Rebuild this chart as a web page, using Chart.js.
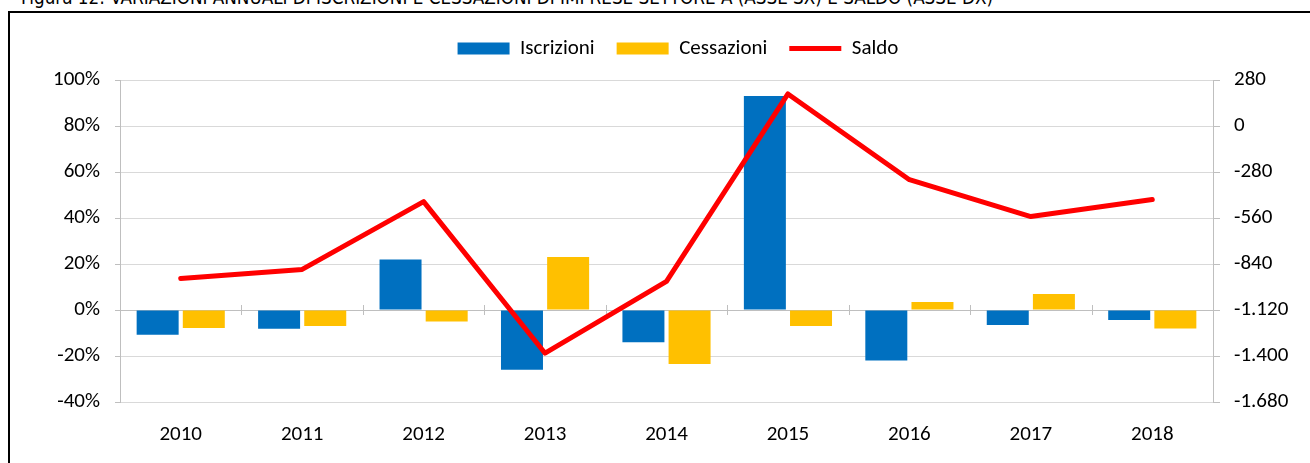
<!DOCTYPE html>
<html>
<head>
<meta charset="utf-8">
<script src="https://cdn.jsdelivr.net/npm/chart.js@4/dist/chart.umd.min.js"></script>
<style>
  html, body { margin: 0; padding: 0; background: #fff; overflow: hidden; }
  #wrap { position: relative; width: 1310px; height: 463px; }
  #title { position: absolute; left: 21px; top: -13px; font-family: "Liberation Sans Narrow", "Arial Narrow", "DejaVu Sans Condensed", sans-serif; font-size: 18.7px; line-height: 22px; color: #000; white-space: nowrap; }
  #frame { position: absolute; left: 8px; top: 11px; width: 1320px; height: 470px; border-left: 2px solid #000; border-top: 2px solid #000; box-sizing: border-box; }
  canvas { position: absolute; left: 0; top: 0; }
</style>
</head>
<body>
<div id="wrap">
  <div id="title">Figura 12: VARIAZIONI ANNUALI DI ISCRIZIONI E CESSAZIONI DI IMPRESE SETTORE A (ASSE SX) E SALDO (ASSE DX)</div>
  <div id="frame"></div>
  <canvas id="c" width="1310" height="463"></canvas>
</div>
<script>
const years = ["2010", "2011", "2012", "2013", "2014", "2015", "2016", "2017", "2018"];
const iscrizioni = [-10.8, -8.2, 22.0, -26.0, -14.0, 93.0, -22.0, -6.5, -4.3];
const cessazioni = [-7.8, -7.0, -5.0, 23.0, -23.5, -7.0, 3.5, 7.0, -8.0];
const saldo = [-928, -873, -460, -1383, -946, 195, -327, -551, -448];
const leftTicks = [-40, -20, 0, 20, 40, 60, 80, 100];
const rightTicks = [-1680, -1400, -1120, -840, -560, -280, 0, 280];

const FONT = "Carlito, Lato, 'Liberation Sans', sans-serif";
const FS = 21;

function fmtIt(v) {
  const s = Math.abs(Math.round(v)).toString().replace(/\B(?=(\d{3})+(?!\d))/g, ".");
  return (v < 0 ? "-" : "") + s;
}

const zeroTicks = {
  id: "zeroTicks",
  beforeDatasetsDraw(chart) {
    const x = chart.scales.x, y = chart.scales.y;
    const ctx = chart.ctx;
    const y0 = y.getPixelForValue(0);
    const n = years.length;
    ctx.save();
    ctx.strokeStyle = "#bfbfbf";
    ctx.lineWidth = 1;
    for (let i = 1; i < n; i++) {
      const px = Math.round((x.getPixelForValue(i - 1) + x.getPixelForValue(i)) / 2) + 0.5;
      ctx.beginPath();
      ctx.moveTo(px, y0 - 5);
      ctx.lineTo(px, y0 + 5);
      ctx.stroke();
    }
    ctx.restore();
  }
};

const legendGap = {
  id: "legendGap",
  beforeLayout(chart) {
    const lg = chart.legend;
    if (lg && !lg._gapPatched) {
      const f = lg.fit.bind(lg);
      lg.fit = function () { f(); this.height += 11; };
      lg._gapPatched = true;
    }
  },
  afterLayout(chart) {
    const lg = chart.legend;
    if (lg) { lg.left += 46; }
  }
};

new Chart(document.getElementById("c"), {
  data: {
    labels: years,
    datasets: [
      { type: "bar", label: "Iscrizioni", data: iscrizioni, backgroundColor: "#0070c0", borderWidth: 0, yAxisID: "y", order: 2, categoryPercentage: 0.76, barPercentage: 0.91 },
      { type: "bar", label: "Cessazioni", data: cessazioni, backgroundColor: "#ffc000", borderWidth: 0, yAxisID: "y", order: 2, categoryPercentage: 0.76, barPercentage: 0.91 },
      { type: "line", label: "Saldo", data: saldo, borderColor: "#ff0000", backgroundColor: "#ff0000", borderWidth: 5, pointRadius: 0, tension: 0, borderCapStyle: "round", borderJoinStyle: "round", yAxisID: "y1", order: 0 }
    ]
  },
  options: {
    responsive: false,
    animation: false,
    devicePixelRatio: 1,
    layout: { padding: { top: 16, left: 0, right: 0, bottom: 0 } },
    plugins: {
      tooltip: { enabled: false },
      legend: {
        display: true,
        position: "top",
        labels: {
          font: { family: FONT, size: FS },
          color: "#000",
          padding: 22,
          boxHeight: 12,
          usePointStyle: true,
          pointStyleWidth: 52,
          generateLabels(chart) {
            return chart.data.datasets.map((ds, i) => ({
              text: ds.label,
              datasetIndex: i,
              fillStyle: ds.type === "line" ? ds.borderColor : ds.backgroundColor,
              strokeStyle: ds.type === "line" ? ds.borderColor : ds.backgroundColor,
              lineWidth: ds.type === "line" ? 5 : 0,
              pointStyle: ds.type === "line" ? "line" : "rect",
              hidden: false,
              fontColor: "#000"
            }));
          }
        }
      }
    },
    scales: {
      x: {
        type: "category",
        offset: true,
        grid: { display: false, drawTicks: false, tickLength: 0 },
        border: { display: false },
        ticks: { font: { family: FONT, size: FS }, color: "#000", padding: 20 },
        afterFit(s) { s.height = 61; }
      },
      y: {
        type: "linear",
        position: "left",
        min: -40, max: 100,
        afterBuildTicks(s) { s.ticks = leftTicks.map(v => ({ value: v })); },
        ticks: { font: { family: FONT, size: FS }, color: "#000", padding: 15, callback: v => v + "%" },
        grid: { color: ctx => (ctx.tick && ctx.tick.value === 0 ? "#bfbfbf" : "#d9d9d9"), tickColor: "#bfbfbf", tickLength: 5, lineWidth: 1 },
        border: { color: "#bfbfbf" },
        afterFit(s) { s.width = 120; }
      },
      y1: {
        type: "linear",
        position: "right",
        min: -1680, max: 280,
        afterBuildTicks(s) { s.ticks = rightTicks.map(v => ({ value: v })); },
        ticks: { font: { family: FONT, size: FS }, color: "#000", padding: 14, callback: v => fmtIt(v) },
        grid: { drawOnChartArea: false, color: "#bfbfbf", tickLength: 7 },
        border: { color: "#bfbfbf" },
        afterFit(s) { s.width = 97; }
      }
    }
  },
  plugins: [zeroTicks, legendGap]
});
</script>
</body>
</html>
